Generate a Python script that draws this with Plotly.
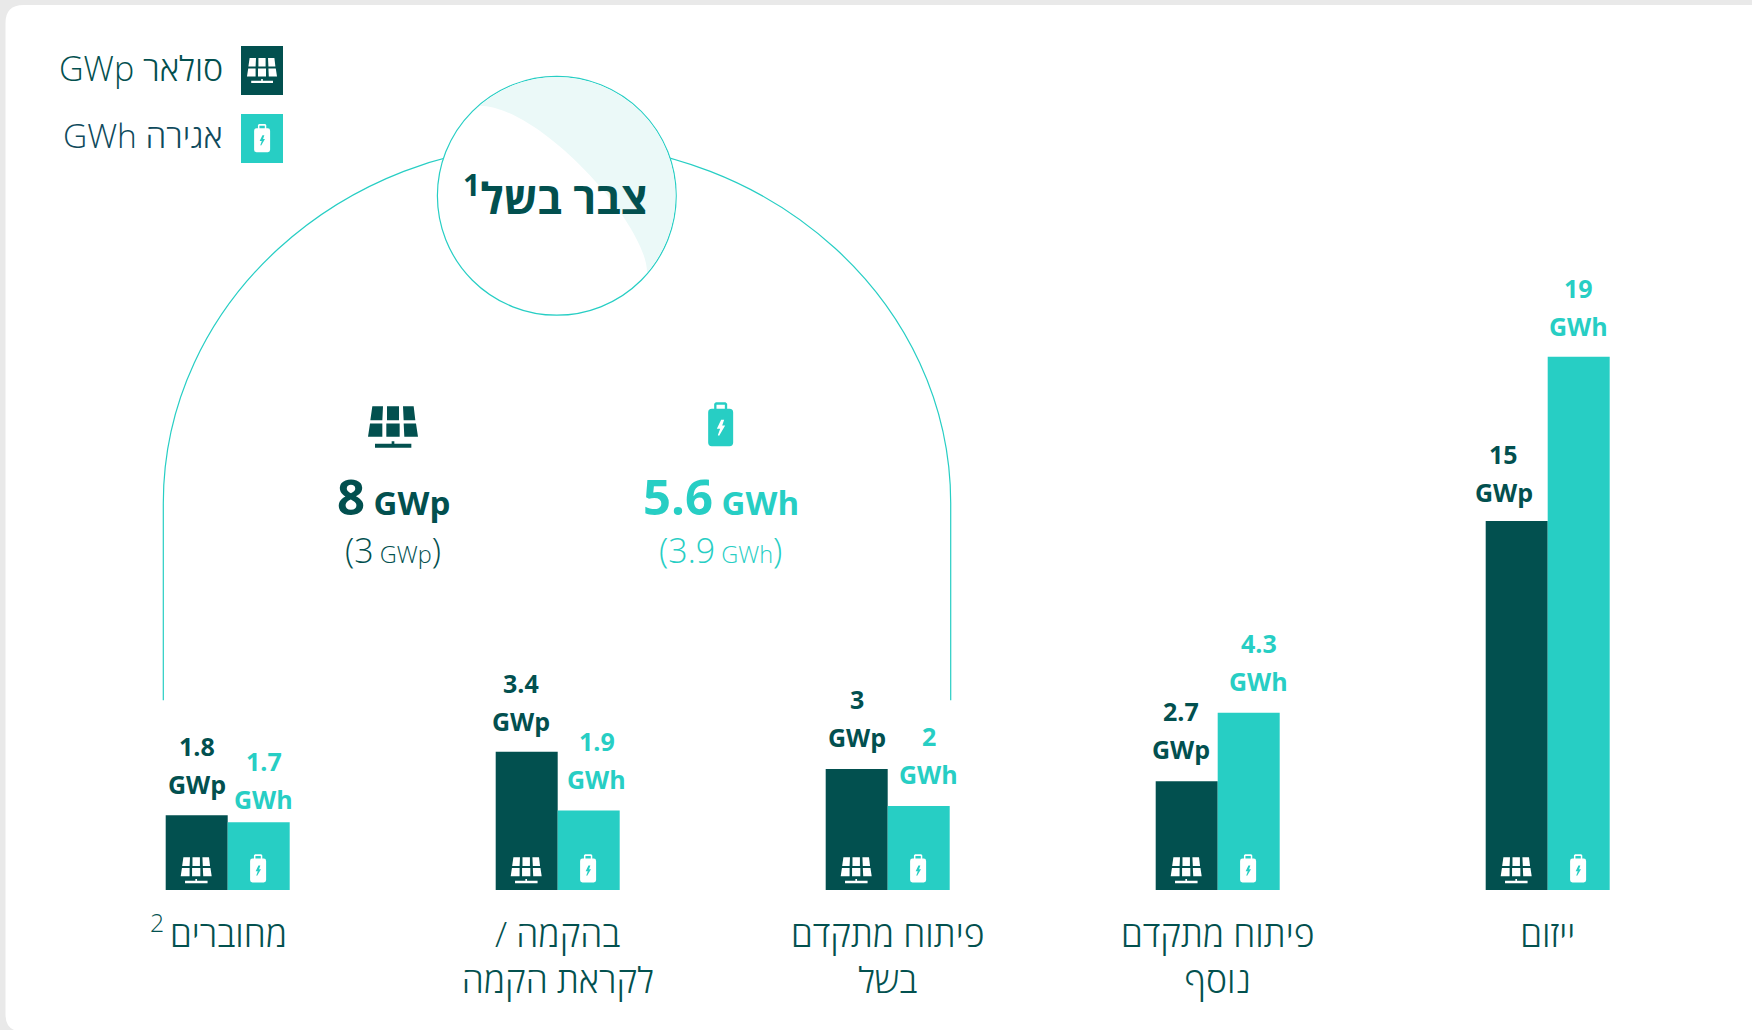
import math
import plotly.graph_objects as go

# ---------- data ----------
categories = ["מחוברים\u2009<sup>2</sup>\u00a0\u00a0", "/ בהקמה<br>לקראת הקמה", "פיתוח מתקדם<br>בשל", "פיתוח מתקדם<br>נוסף", "ייזום"]
solar_labels = ["1.8", "3.4", "3", "2.7", "15"]
storage_labels = ["1.7", "1.9", "2", "4.3", "19"]
# bar heights as drawn in the picture (the source's bars are not to scale above ~5)
solar_drawn = [1.82, 3.37, 2.95, 2.65, 9.0]
storage_drawn = [1.65, 1.94, 2.05, 4.32, 13.0]
solar_unit = "GWp"
storage_unit = "GWh"
ready_solar = "8"
ready_storage = "5.6"
ready_solar_sub = "3"
ready_storage_sub = "3.9"
ready_title = "צבר בשל"
legend_solar = "GWp סולאר"
legend_storage = "GWh אגירה"

# ---------- style / layout ----------
W, H = 1752, 1030
BASE = 889.7
SCALE = 41.0
STEP = 330.0
C0 = 227.7
BAR = 62.0
DARK = "#02504F"
TEAL = "#27CEC4"
FONT = "Open Sans, Noto Sans, Liberation Sans, sans-serif"
solar_dx = [0, -6, 0, -5.5, -13]
storage_dx = [5, 8, 10, 10, 0]
storage_gap = [11.5, 19.5, 19.5, 20, 19]
solar_gap = [19, 19, 20, 20, 17]


def px(x, y):
    return f"{x / W:.5f},{1 - y / BASE:.5f}"


def path_shape(d, color, layer="above", line=None, lw=0):
    return dict(type="path", xref="paper", yref="paper", path=d, fillcolor=color, layer=layer,
                line=dict(color=line or "rgba(0,0,0,0)", width=lw))


def poly(points):
    return "M" + " L".join(px(x, y) for x, y in points) + " Z "


TILES = [
    [(218, 78), (250, 78), (248, 120), (212, 120)],
    [(262, 78), (298, 78), (298, 120), (262, 120)],
    [(310, 78), (342, 78), (347, 120), (312, 120)],
    [(211, 130), (248, 130), (248, 170), (205, 170)],
    [(260, 130), (300, 130), (300, 170), (260, 170)],
    [(312, 130), (349, 130), (355, 170), (314, 170)],
    [(276, 183), (284, 183), (284, 191), (276, 191)],
    [(226, 191), (335, 191), (335, 203), (226, 203)],
]


def solar_icon(cx, top, width, color):
    s = width / 150.0
    d = ""
    for t in TILES:
        d += poly([(cx + (x - 280) * s, top + (y - 78) * s) for x, y in t])
    return [path_shape(d, color)]


def battery_icon(cx, top, width, color, bg):
    s = width / 75.0
    X = lambda x: cx + (x - 1262) * s
    Y = lambda y: top + (y - 65) * s
    r = 11
    l, rr, t, b = 1225, 1300, 85, 197
    body = ("M" + px(X(l + r), Y(t)) + " L" + px(X(rr - r), Y(t)) + " Q" + px(X(rr), Y(t)) + " " + px(X(rr), Y(t + r))
            + " L" + px(X(rr), Y(b - r)) + " Q" + px(X(rr), Y(b)) + " " + px(X(rr - r), Y(b))
            + " L" + px(X(l + r), Y(b)) + " Q" + px(X(l), Y(b)) + " " + px(X(l), Y(b - r))
            + " L" + px(X(l), Y(t + r)) + " Q" + px(X(l), Y(t)) + " " + px(X(l + r), Y(t)) + " Z ")
    cap = poly([(X(1243), Y(85)), (X(1243), Y(70)), (X(1248), Y(65)), (X(1277), Y(65)), (X(1282), Y(70)), (X(1282), Y(85))])
    hole = poly([(X(1250), Y(85)), (X(1250), Y(73)), (X(1275), Y(73)), (X(1275), Y(85))])
    bolt = poly([(X(x), Y(y)) for x, y in [(1264, 118), (1273, 118), (1267, 135), (1276, 135), (1258, 166), (1254, 164),
                                           (1261, 145), (1251, 145)]])
    return [path_shape(body + cap, color), path_shape(hole + bolt, bg)]


def arc(cx, cy, r, a0, a1):
    n = 4
    out = ""
    da = (a1 - a0) / n
    k = 4 / 3 * math.tan(math.radians(da) / 4)
    for i in range(n):
        t0, t1 = math.radians(a0 + i * da), math.radians(a0 + (i + 1) * da)
        x0, y0 = cx + r * math.cos(t0), cy + r * math.sin(t0)
        x1, y1 = cx + r * math.cos(t1), cy + r * math.sin(t1)
        c0 = (x0 - k * r * math.sin(t0), y0 + k * r * math.cos(t0))
        c1 = (x1 + k * r * math.sin(t1), y1 - k * r * math.cos(t1))
        out += " C" + px(*c0) + " " + px(*c1) + " " + px(x1, y1)
    return out


shapes = []
# white card on the grey page
rad = 18
card = ("M" + px(5.5 + rad, 5) + " L" + px(W + 40, 5) + " L" + px(W + 40, H + 40) + " L" + px(22, H + 1)
        + " Q" + px(5.5, H + 1) + " " + px(5.5, H - 16) + " L" + px(5.5, 5 + rad)
        + " Q" + px(5.5, 5) + " " + px(5.5 + rad, 5) + " Z")
shapes.append(path_shape(card, "#FFFFFF", layer="below"))

# arch
cx_arch, cy_arch, rx_arch, ry_arch = 557.0, 503.0, 393.7, 360.0
kk = 0.5523
arch = ("M" + px(cx_arch - rx_arch, 700) + " L" + px(cx_arch - rx_arch, cy_arch)
        + " C" + px(cx_arch - rx_arch, cy_arch - kk * ry_arch) + " " + px(cx_arch - kk * rx_arch, cy_arch - ry_arch)
        + " " + px(cx_arch, cy_arch - ry_arch)
        + " C" + px(cx_arch + kk * rx_arch, cy_arch - ry_arch) + " " + px(cx_arch + rx_arch, cy_arch - kk * ry_arch)
        + " " + px(cx_arch + rx_arch, cy_arch)
        + " L" + px(cx_arch + rx_arch, 700))
shapes.append(dict(type="path", xref="paper", yref="paper", path=arch, layer="below",
                   fillcolor="rgba(0,0,0,0)", line=dict(color=TEAL, width=1.2)))

# circle and crescent
ccx, ccy, cr = 556.8, 195.7, 119.4
shapes.append(dict(type="circle", xref="paper", yref="paper", layer="below", fillcolor="#FFFFFF",
                   line=dict(color=TEAL, width=1.2),
                   x0=(ccx - cr) / W, x1=(ccx + cr) / W, y0=1 - (ccy + cr) / BASE, y1=1 - (ccy - cr) / BASE))
a0, a1 = -130.6, 40.5
sx, sy = ccx + (cr - .8) * math.cos(math.radians(a0)), ccy + (cr - .8) * math.sin(math.radians(a0))
cres = ("M" + px(sx, sy) + arc(ccx, ccy, cr - .8, a0, a1)
        + " C" + px(648, 225) + " " + px(540, 106) + " " + px(sx, sy) + " Z")
shapes.append(path_shape(cres, "#EBF9F8", layer="below"))

# icons
for i in range(len(categories)):
    c = C0 + i * STEP
    shapes += solar_icon(c - BAR / 2 - 0.5, 857, 31, "#FFFFFF")
    shapes += battery_icon(c + BAR / 2 - 0.7, 854, 16, "#FFFFFF", TEAL)
shapes.append(path_shape("M" + px(241, 46) + " L" + px(283, 46) + " L" + px(283, 95) + " L" + px(241, 95) + " Z", DARK))
shapes.append(path_shape("M" + px(241, 114) + " L" + px(283, 114) + " L" + px(283, 163) + " L" + px(241, 163) + " Z", TEAL))
shapes += solar_icon(262, 58, 30, "#FFFFFF")
shapes += battery_icon(262, 124, 16, "#FFFFFF", TEAL)
shapes += solar_icon(393, 406, 50, DARK)
shapes += battery_icon(720.5, 402, 25, TEAL, "#FFFFFF")

annotations = []


def note(text, x, y, size, color, weight="normal", anchor="center"):
    annotations.append(dict(text=text, xref="paper", yref="paper", x=x / W, y=1 - y / BASE, showarrow=False,
                            xanchor=anchor, yanchor="middle", align="center",
                            font=dict(family=FONT, size=size, color=color, weight=weight)))


note(legend_solar, 225, 68, 34, "#03504F", weight=300, anchor="right")
note(legend_storage, 225, 135, 33.5, "#0F4A5C", weight=300, anchor="right")
note(ready_title + "<sup>1</sup>", ccx - 1, 195, 43, DARK, weight="bold")
note(f'<span style="font-size:49px">{ready_solar}</span> {solar_unit}', 393, 496, 33, DARK, weight="bold")
note(f'<span style="font-size:49px">{ready_storage}</span> {storage_unit}', 720.5, 496, 33, TEAL, weight="bold")
note(f'<span style="font-size:34px">({ready_solar_sub}</span> {solar_unit}<span style="font-size:34px">)</span>', 393, 550, 23.5, DARK, weight=300)
note(f'<span style="font-size:34px">({ready_storage_sub}</span> {storage_unit}<span style="font-size:34px">)</span>', 720.5, 550, 23.5, TEAL, weight=300)


def bar_label(i, sign, height, value, unit, color, dx, gap):
    common = dict(xref="x", yref="y", x=i + sign * (BAR / 2) / STEP, y=height, xshift=dx, showarrow=False,
                  xanchor="center", yanchor="bottom", font=dict(family=FONT, size=25, color=color, weight="bold"))
    annotations.append(dict(text=unit, yshift=gap - 7, **common))
    annotations.append(dict(text=value, yshift=gap - 7 + 38, **common))


for i in range(len(categories)):
    bar_label(i, -1, solar_drawn[i], solar_labels[i], solar_unit, DARK, solar_dx[i], solar_gap[i])
    bar_label(i, 1, storage_drawn[i], storage_labels[i], storage_unit, TEAL, storage_dx[i], storage_gap[i])

fig = go.Figure()
fig.add_bar(x=categories, y=solar_drawn, name="סולאר GWp", marker=dict(color=DARK, line_width=0),
            customdata=solar_labels, hovertemplate="%{customdata} GWp<extra></extra>")
fig.add_bar(x=categories, y=storage_drawn, name="אגירה GWh", marker=dict(color=TEAL, line_width=0),
            customdata=storage_labels, hovertemplate="%{customdata} GWh<extra></extra>")
fig.update_layout(
    width=W, height=H, autosize=False,
    margin=dict(l=0, r=0, t=0, b=H - BASE, pad=0),
    paper_bgcolor="#E9E9E9", plot_bgcolor="rgba(0,0,0,0)",
    barmode="group", bargap=1 - 2 * BAR / STEP, bargroupgap=0,
    showlegend=False, shapes=shapes, annotations=annotations,
    font=dict(family=FONT),
    xaxis=dict(type="category", range=[-C0 / STEP, (W - C0) / STEP], showgrid=False, zeroline=False, showline=False,
               ticks="outside", ticklen=13, tickcolor="rgba(0,0,0,0)", tickangle=0,
               tickfont=dict(family=FONT, size=35.5, color="#03514F", weight=300)),
    yaxis=dict(range=[0, BASE / SCALE], visible=False, fixedrange=True),
)
fig.write_html("out.html", config=dict(displayModeBar=False),
               post_script="document.body.style.margin='0';document.body.style.overflow='hidden';")
